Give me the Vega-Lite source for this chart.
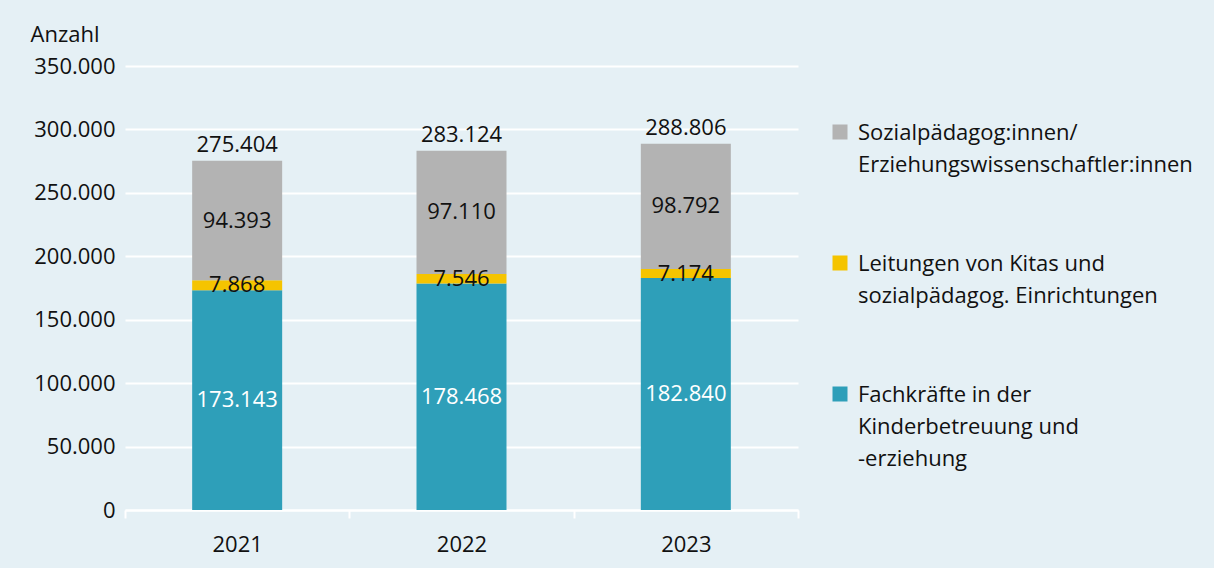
{
  "$schema": "https://vega.github.io/schema/vega-lite/v6.json",
  "width": 673,
  "height": 444,
  "autosize": "none",
  "padding": {"left": 125, "top": 66, "right": 416, "bottom": 58},
  "background": "#e5f0f5",
  "config": {
    "locale": {"number": {"decimal": ",", "thousands": ".", "grouping": [3], "currency": ["", " €"]}},
    "view": {"stroke": null},
    "font": "Open Sans",
    "text": {"font": "Open Sans", "fontSize": 22, "color": "#111111"}
  },
  "datasets": {
    "segments": [
      {"year": "2021", "category": "Fachkräfte in der|Kinderbetreuung und|-erziehung", "order": 1, "value": 173143},
      {"year": "2021", "category": "Leitungen von Kitas und|sozialpädagog. Einrichtungen", "order": 2, "value": 7868},
      {"year": "2021", "category": "Sozialpädagog:innen/|Erziehungswissenschaftler:innen", "order": 3, "value": 94393},
      {"year": "2022", "category": "Fachkräfte in der|Kinderbetreuung und|-erziehung", "order": 1, "value": 178468},
      {"year": "2022", "category": "Leitungen von Kitas und|sozialpädagog. Einrichtungen", "order": 2, "value": 7546},
      {"year": "2022", "category": "Sozialpädagog:innen/|Erziehungswissenschaftler:innen", "order": 3, "value": 97110},
      {"year": "2023", "category": "Fachkräfte in der|Kinderbetreuung und|-erziehung", "order": 1, "value": 182840},
      {"year": "2023", "category": "Leitungen von Kitas und|sozialpädagog. Einrichtungen", "order": 2, "value": 7174},
      {"year": "2023", "category": "Sozialpädagog:innen/|Erziehungswissenschaftler:innen", "order": 3, "value": 98792}
    ],
    "totals": [
      {"year": "2021", "total": 275404},
      {"year": "2022", "total": 283124},
      {"year": "2023", "total": 288806}
    ]
  },
  "encoding": {
    "x": {
      "field": "year", "type": "nominal",
      "scale": {"paddingInner": 0, "paddingOuter": 0},
      "axis": {
        "title": null, "labelAngle": 0, "labelFontSize": 22, "labelColor": "#111111", "labelFont": "Open Sans",
        "domainColor": "white", "domainWidth": 2, "tickColor": "white", "tickWidth": 2, "tickSize": 8,
        "tickBand": "extent", "labelPadding": 16, "grid": false
      }
    }
  },
  "layer": [
    {
      "data": {"name": "segments"},
      "mark": {"type": "bar", "width": 90},
      "encoding": {
        "y": {
          "field": "value", "type": "quantitative", "stack": "zero",
          "scale": {"domain": [0, 350000], "nice": false},
          "axis": {
            "values": [0, 50000, 100000, 150000, 200000, 250000, 300000, 350000],
            "format": ",.0f", "domain": false, "ticks": false, "labelPadding": 10,
            "labelFontSize": 22, "labelColor": "#111111", "labelFont": "Open Sans",
            "gridColor": "white", "gridWidth": 2,
            "title": "Anzahl", "titleAngle": 0, "titleAlign": "left", "titleBaseline": "middle",
            "titleX": -95, "titleY": -32, "titleFontSize": 22, "titleFontWeight": "normal",
            "titleColor": "#111111", "titleFont": "Open Sans"
          }
        },
        "color": {
          "field": "category", "type": "nominal",
          "scale": {
            "domain": ["Sozialpädagog:innen/|Erziehungswissenschaftler:innen", "Leitungen von Kitas und|sozialpädagog. Einrichtungen", "Fachkräfte in der|Kinderbetreuung und|-erziehung"],
            "range": ["#b3b3b3", "#f5c400", "#2e9fb9"]
          },
          "legend": {
            "title": null, "orient": "none", "legendX": 704, "legendY": 55,
            "symbolType": "square", "symbolSize": 225, "symbolStrokeWidth": 0,
            "labelFontSize": 22, "labelFont": "Open Sans", "labelColor": "#111111", "labelLimit": 500,
            "labelExpr": "split(datum.label, '|')", "labelBaseline": "alphabetic", "rowPadding": 76,
            "labelOffset": 7,
            "encode": {"labels": {"update": {"lineHeight": {"value": 32}, "dy": {"value": 8}}}}
          }
        },
        "order": {"field": "order", "type": "quantitative"}
      }
    },
    {
      "data": {"name": "segments"},
      "transform": [
        {"stack": "value", "groupby": ["year"], "sort": [{"field": "order"}], "as": ["v0", "v1"]},
        {"calculate": "(datum.v0 + datum.v1) / 2", "as": "mid"}
      ],
      "mark": {"type": "text", "baseline": "middle"},
      "encoding": {
        "y": {"field": "mid", "type": "quantitative"},
        "text": {"field": "value", "type": "quantitative", "format": ",.0f"},
        "color": {
          "condition": {"test": "datum.order === 1", "value": "white"},
          "value": "#111111"
        }
      }
    },
    {
      "data": {"name": "totals"},
      "mark": {"type": "text", "baseline": "bottom", "dy": -4},
      "encoding": {
        "y": {"field": "total", "type": "quantitative"},
        "text": {"field": "total", "type": "quantitative", "format": ",.0f"}
      }
    }
  ]
}
